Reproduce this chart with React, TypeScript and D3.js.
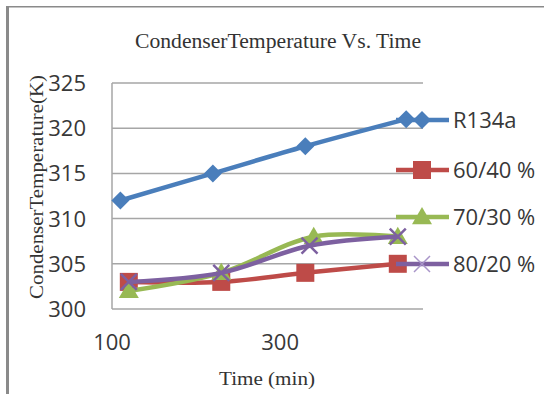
import React, { useEffect, useRef } from 'react';
import * as d3 from 'd3';

const seriesNames = ['R134a', '60/40 %', '70/30 %', '80/20 %'];
const seriesColors = ['#4A7EBB', '#BE4B48', '#98B954', '#7D60A0'];
const markerKinds = ['diamond', 'square', 'triangle', 'cross'];

const timesR134a = [110, 220, 330, 450];
const times6040 = [120, 230, 330, 440];
const times7030 = [120, 230, 340, 440];
const times8020 = [120, 230, 335, 440];

const tempR134a = [312, 315, 318, 321];
const temp6040 = [303, 303, 304, 305];
const temp7030 = [302, 304, 308, 308];
const temp8020 = [303, 304, 307, 308];

const xTicks = [100, 300];
const yTicks = [300, 305, 310, 315, 320, 325];

const W = 544;
const H = 394;

const App: React.FC = () => {
  const svgRef = useRef<SVGSVGElement>(null);

  useEffect(() => {
    if (!svgRef.current) return;
    const svg = d3.select(svgRef.current);
    svg.selectAll('*').remove();

    const x = d3.scaleLinear().domain([100, 470]).range([112, 423]);
    const y = d3.scaleLinear().domain([300, 325]).range([309, 83]);

    // outer frame (left and top edges only visible)
    svg.append('line')
      .attr('x1', 7.5).attr('x2', 7.5).attr('y1', 6).attr('y2', H)
      .attr('stroke', '#8a8a8a').attr('stroke-width', 3);
    svg.append('line')
      .attr('x1', 6).attr('x2', W).attr('y1', 6.8).attr('y2', 6.8)
      .attr('stroke', '#8a8a8a').attr('stroke-width', 1.6);

    // gridlines
    svg.append('g')
      .selectAll('line')
      .data(yTicks)
      .enter()
      .append('line')
      .attr('x1', x(100)).attr('x2', x(470))
      .attr('y1', d => y(d)).attr('y2', d => y(d))
      .attr('stroke', '#a6a6a6').attr('stroke-width', 1.5);

    // left axis line
    svg.append('line')
      .attr('x1', x(100)).attr('x2', x(100))
      .attr('y1', y(325)).attr('y2', y(300))
      .attr('stroke', '#a6a6a6').attr('stroke-width', 1.5);

    // tick labels
    svg.append('g')
      .selectAll('text')
      .data(yTicks)
      .enter()
      .append('text')
      .attr('x', 86)
      .attr('y', d => y(d))
      .attr('dy', '0.36em')
      .attr('text-anchor', 'end')
      .attr('font-family', 'Open Sans')
      .attr('font-size', 22)
      .attr('fill', '#383838')
      .text(d => d);

    svg.append('g')
      .selectAll('text')
      .data(xTicks)
      .enter()
      .append('text')
      .attr('x', d => x(d))
      .attr('y', 350)
      .attr('text-anchor', 'middle')
      .attr('font-family', 'Open Sans')
      .attr('font-size', 22)
      .attr('fill', '#383838')
      .text(d => d);

    // titles
    svg.append('text')
      .attr('x', 278).attr('y', 48)
      .attr('text-anchor', 'middle')
      .attr('font-family', 'Liberation Serif')
      .attr('font-size', 20)
      .attr('fill', '#333')
      .attr('textLength', 286)
      .attr('lengthAdjust', 'spacingAndGlyphs')
      .text('CondenserTemperature Vs. Time');

    svg.append('text')
      .attr('x', 267).attr('y', 385)
      .attr('text-anchor', 'middle')
      .attr('font-family', 'Liberation Serif')
      .attr('font-size', 19)
      .attr('fill', '#333')
      .attr('textLength', 96)
      .attr('lengthAdjust', 'spacingAndGlyphs')
      .text('Time (min)');

    svg.append('text')
      .attr('transform', 'translate(43,187) rotate(-90)')
      .attr('text-anchor', 'middle')
      .attr('font-family', 'Liberation Serif')
      .attr('font-size', 19.5)
      .attr('fill', '#333')
      .attr('textLength', 224)
      .attr('lengthAdjust', 'spacingAndGlyphs')
      .text('CondenserTemperature(K)');

    const allTimes = [timesR134a, times6040, times7030, times8020];
    const allTemps = [tempR134a, temp6040, temp7030, temp8020];

    const line = d3.line<[number, number]>()
      .x(d => x(d[0]))
      .y(d => y(d[1]))
      .curve(d3.curveCatmullRom.alpha(0.5));

    const drawMarker = (g: d3.Selection<SVGGElement, unknown, null, undefined>, kind: string, color: string, cx: number, cy: number, legend: boolean) => {
      if (kind === 'diamond') {
        const s = 9;
        g.append('path')
          .attr('d', `M${cx},${cy - s}L${cx + s},${cy}L${cx},${cy + s}L${cx - s},${cy}Z`)
          .attr('fill', color);
      } else if (kind === 'square') {
        const s = 9;
        g.append('rect')
          .attr('x', cx - s).attr('y', cy - s)
          .attr('width', 2 * s).attr('height', 2 * s)
          .attr('fill', color);
      } else if (kind === 'triangle') {
        const s = 10;
        g.append('path')
          .attr('d', `M${cx},${cy - s}L${cx + s},${cy + s * 0.72}L${cx - s},${cy + s * 0.72}Z`)
          .attr('fill', color);
      } else {
        const s = 8;
        g.append('path')
          .attr('d', `M${cx - s},${cy - s}L${cx + s},${cy + s}M${cx + s},${cy - s}L${cx - s},${cy + s}`)
          .attr('stroke', legend ? '#a995c9' : color)
          .attr('stroke-width', legend ? 1.5 : 2.5)
          .attr('fill', 'none');
      }
    };

    const plot = svg.append('g');
    seriesNames.forEach((name, i) => {
      const pts: [number, number][] = allTimes[i].map((t, j) => [t, allTemps[i][j]]);
      const g = plot.append('g');
      g.append('path')
        .attr('d', line(pts))
        .attr('fill', 'none')
        .attr('stroke', seriesColors[i])
        .attr('stroke-width', 4.5)
        .attr('stroke-linejoin', 'round');
      pts.forEach(p => drawMarker(g, markerKinds[i], seriesColors[i], x(p[0]), y(p[1]), false));
    });

    // legend
    const legendY = [120, 170, 217, 264];
    const legend = svg.append('g');
    seriesNames.forEach((name, i) => {
      const g = legend.append('g');
      g.append('line')
        .attr('x1', 396).attr('x2', 449)
        .attr('y1', legendY[i]).attr('y2', legendY[i])
        .attr('stroke', seriesColors[i])
        .attr('stroke-width', 4.5);
      drawMarker(g, markerKinds[i], seriesColors[i], 422, legendY[i], true);
      g.append('text')
        .attr('x', 453)
        .attr('y', legendY[i])
        .attr('dy', '0.36em')
        .attr('font-family', 'Open Sans')
        .attr('font-size', 22)
        .attr('fill', '#383838')
        .text(name);
    });
  }, []);

  return (
    <svg
      ref={svgRef}
      width={W}
      height={H}
      style={{ position: 'absolute', left: 0, top: 0, background: '#fff' }}
    />
  );
};

export default App;
